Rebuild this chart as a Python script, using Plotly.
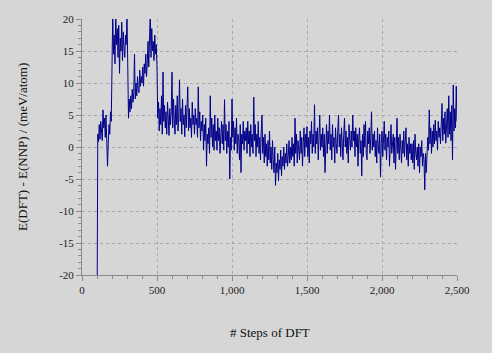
import plotly.graph_objects as go

# Steps of DFT (every 5 steps from 100 to 2500)
step_start = 100
step_size = 5
# E(DFT) - E(NNP) in meV/atom
energy_diff = [
    -30, 2.0, 0.8, 3.5, 1.2, 4.0, 2.5, 1.0, 5.8, 3.0,
    4.5, 1.5, 5.0, 2.0, -3.0, 0.5, 3.5, 2.0, 5.5, 4.0,
    19.0, 21, 14.5, 17.5, 13.0, 21, 16.0, 18.5, 14.0, 19.0,
    11.5, 17.0, 15.0, 19.5, 13.5, 18.0, 15.5, 14.0, 17.5, 16.0,
    21, 12.0, 4.5, 7.5, 5.5, 8.0, 6.0, 9.0, 7.0, 8.5,
    14.5, 7.5, 10.0, 8.0, 11.0, 9.0, 8.5, 12.0, 9.5, 11.0,
    10.0, 12.5, 9.5, 13.0, 11.5, 14.5, 11.0, 13.0, 16.5, 12.5,
    17.0, 21, 14.0, 18.5, 15.0, 16.5, 13.5, 17.5, 14.5, 16.0,
    12.5, 4.5, 7.0, 2.5, 6.0, 3.5, 8.0, 2.0, 11.7, 4.0,
    6.5, 3.0, 5.5, 2.0, 7.0, 4.5, 1.8, 6.0, 3.5, 5.5,
    11.7, 3.0, 7.5, 4.5, 2.0, 6.5, 3.5, 8.0, 2.5, 5.0,
    10.5, 4.0, 6.0, 2.0, 7.5, 3.5, 5.0, 1.6, 6.5, 3.0,
    5.5, 9.4, 2.5, 6.0, 3.0, 4.5, 1.5, 7.0, 3.5, 5.0,
    2.0, 6.0, 3.5, 4.5, 1.5, 9.4, 3.0, 5.5, 1.0, 4.0,
    2.5, 5.0, -0.5, 3.5, 1.0, 4.5, -3.0, 2.0, 0.5, 3.0,
    -1.0, 8.0, 1.5, 4.5, 0.0, 3.5, -0.5, 5.0, 1.0, 2.5,
    -0.5, 4.5, 1.0, 3.0, -1.0, 2.0, 4.0, 0.5, 3.5, -0.5,
    7.4, 1.0, 3.5, -1.0, 2.5, 0.0, 4.0, -5.0, 1.5, -0.5,
    7.5, 1.5, 4.0, -0.5, 3.0, 0.5, 4.5, -1.0, 2.0, 1.0,
    -2.0, 3.5, -4.0, 2.0, 0.5, 4.0, -0.5, 2.5, 1.0, 3.0,
    -1.0, 4.0, 0.5, 2.5, -1.5, 3.5, 0.0, 2.0, -1.0, 7.8,
    1.0, 3.5, -1.5, 2.0, 0.0, 4.0, -1.0, 1.5, -2.0, 2.5,
    5.0, -1.0, 1.5, -2.5, 2.0, -1.5, 0.5, -3.0, 1.0, -2.0,
    2.5, -2.5, 0.0, -3.5, 1.0, -2.0, -4.0, 0.0, -6.0, -2.5,
    -4.0, -1.0, -5.3, -2.0, -3.5, -0.5, -4.5, -1.5, -3.0, 0.0,
    -3.5, -1.0, -2.5, 0.5, -3.0, -1.5, 1.0, -2.5, 0.0, -2.0,
    1.5, -1.5, 0.5, -3.0, 4.5, -1.0, 2.0, -2.5, 1.0, -0.5,
    -2.0, 2.5, -1.0, 1.5, -3.0, 0.5, 3.0, -1.5, 2.0, 0.0,
    3.2, -1.5, 1.5, -2.5, 2.5, 0.5, 4.0, -1.0, 2.0, 0.0,
    6.6, -1.0, 2.5, 0.5, 3.0, -2.0, 1.0, 5.0, -0.5, 2.0,
    0.0, 3.0, -1.5, 2.0, -4.0, 1.0, 3.5, -1.0, 2.5, 0.5,
    5.0, -0.5, 2.0, -2.0, 3.5, 0.0, 1.5, -2.5, 3.0, 0.5,
    -1.0, 2.5, 5.0, 0.0, 2.0, -1.5, 3.0, 0.5, -2.0, 2.0,
    4.5, 0.0, 2.5, -1.0, 1.5, -2.5, 3.5, 1.0, -0.5, 2.5,
    0.0, 5.0, 1.0, 2.5, -1.5, 3.0, 0.0, 2.0, -3.0, 1.5,
    3.0, -1.0, 1.0, -4.5, 2.0, -1.5, 3.5, 0.0, 4.0, -1.0,
    -2.0, 2.5, 0.5, 3.0, -1.0, 1.5, 5.5, -0.5, 2.0, 0.0,
    2.5, -1.5, 1.0, -2.5, 3.0, 0.0, -1.0, 2.0, -4.7, 0.5,
    2.5, -1.5, 1.0, 4.0, -0.5, 2.0, -2.0, 1.5, 0.0, 2.5,
    -3.0, 1.0, 3.5, -1.0, 0.5, 2.0, -2.5, 1.5, -3.5, 0.0,
    4.5, -1.0, 1.5, -2.0, 2.0, 0.0, -2.5, 1.0, -1.0, 2.5,
    -1.5, 1.0, 3.0, -2.0, 0.5, -3.0, 1.5, -1.0, 0.5, -2.0,
    0.5, -2.5, 1.0, -3.5, 2.0, -1.0, -2.0, 0.0, -3.0, 0.5,
    -4.0, 0.0, -1.5, 1.0, -3.0, -1.0, -2.0, -6.7, -1.0, -4.0,
    -1.5, 1.5, -0.5, 5.8, 0.5, 3.0, -1.0, 2.5, 0.0, 3.5,
    0.5, 4.2, 1.0, 2.5, -0.5, 4.0, 1.5, 3.0, 0.5, 3.5,
    6.8, 1.0, 4.5, 2.0, 5.5, 0.6, 3.5, 6.0, 1.5, 8.0,
    2.0, 5.5, 1.0, 6.5, -2.0, 9.7, 2.5, 6.0, 3.0, 9.5,
    4.0,
]
steps = [step_start + i * step_size for i in range(len(energy_diff))]

y_ticks = [-20, -15, -10, -5, 0, 5, 10, 15, 20]
y_tick_labels = ["-20", "-15", "-10", "-5", "0", "5", "10", "15", "20"]
x_ticks = [0, 500, 1000, 1500, 2000, 2500]
x_tick_labels = ["0", "500", "1,000", "1,500", "2,000", "2,500"]

bg = "#d6d6d6"
axis_col = "#8a8a8a"
grid_col = "#a8a8a8"
font_fam = "Liberation Serif"

fig = go.Figure()
fig.add_trace(go.Scatter(
    x=steps, y=energy_diff, mode="lines",
    line=dict(color="#00008a", width=1),
    showlegend=False, hoverinfo="skip",
))

fig.update_layout(
    width=492, height=353,
    margin=dict(l=82, r=35, t=19, b=78),
    paper_bgcolor=bg, plot_bgcolor=bg,
    font=dict(family=font_fam, size=11, color="#222222"),
    annotations=[
        dict(text="# Steps of DFT", xref="paper", yref="paper",
             x=0.5, y=-57 / 256, xanchor="center", yanchor="middle",
             showarrow=False, font=dict(size=13, family=font_fam, color="#111111")),
        dict(text="E(DFT) - E(NNP) / (meV/atom)", xref="paper", yref="paper",
             x=-60 / 375, y=0.5, xanchor="center", yanchor="middle", textangle=-90,
             showarrow=False, font=dict(size=13, family=font_fam, color="#111111")),
    ],
)

fig.update_xaxes(
    range=[0, 2500], tickvals=x_ticks, ticktext=x_tick_labels,
    tickfont=dict(family=font_fam, size=11, color="#222222"),
    showline=True, linecolor=axis_col, linewidth=1,
    ticks="outside", ticklen=5, tickcolor=axis_col,
    showgrid=True, gridcolor=grid_col, griddash="3px,3px", gridwidth=1,
    zeroline=False,
    minor=dict(ticks="outside", ticklen=3, tickcolor=axis_col, dtick=100, showgrid=False),
)
fig.update_yaxes(
    range=[-20, 20], tickvals=y_ticks, ticktext=y_tick_labels,
    tickfont=dict(family=font_fam, size=11, color="#222222"),
    showline=True, linecolor=axis_col, linewidth=1,
    ticks="outside", ticklen=5, tickcolor=axis_col,
    showgrid=True, gridcolor=grid_col, griddash="3px,3px", gridwidth=1,
    zeroline=False,
    minor=dict(ticks="outside", ticklen=3, tickcolor=axis_col, dtick=1, showgrid=False),
)

fig.write_html("out.html")
